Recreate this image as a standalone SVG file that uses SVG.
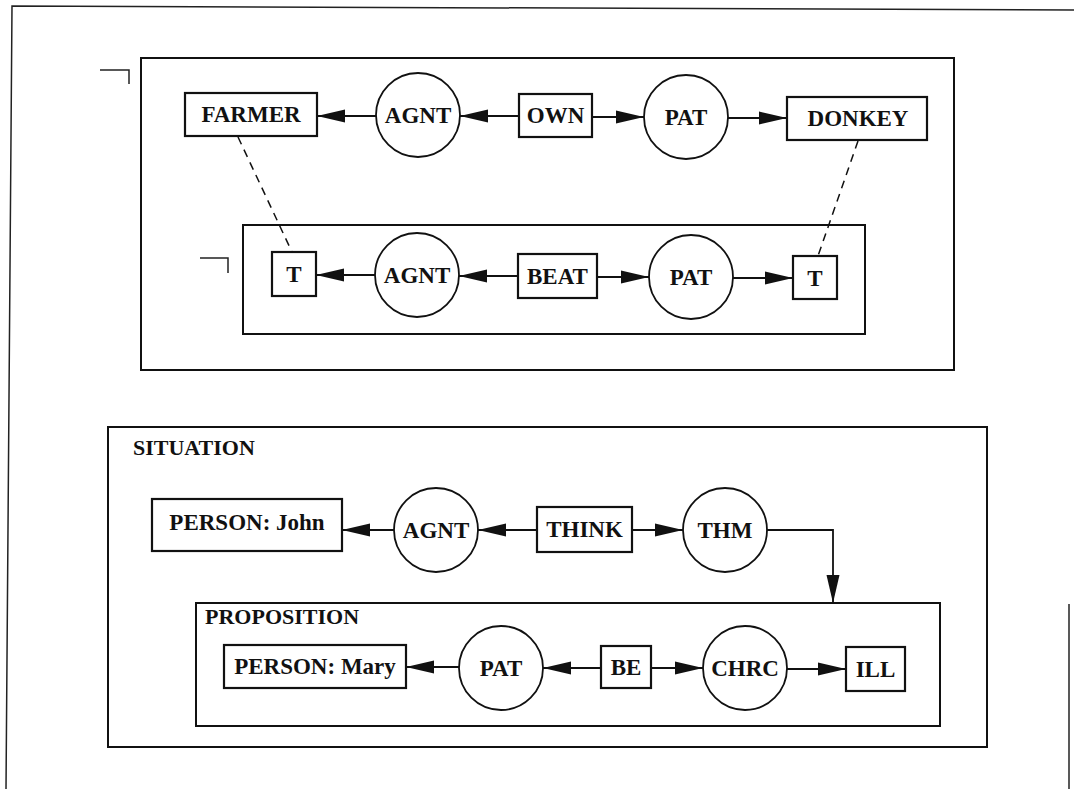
<svg xmlns="http://www.w3.org/2000/svg" width="1074" height="789" viewBox="0 0 1074 789">
<style>
.bx{fill:#fff;stroke:#111;stroke-width:2.2}
.ctx{fill:none;stroke:#111;stroke-width:2}
.rel{fill:#fff;stroke:#111;stroke-width:1.8}
.t{font-family:"Liberation Serif","Times New Roman",serif;font-weight:bold;font-size:23px;fill:#111;text-anchor:middle}
.lbl{font-family:"Liberation Serif","Times New Roman",serif;font-weight:bold;font-size:22px;fill:#111}
.ar{fill:none;stroke:#111;stroke-width:1.8;marker-end:url(#ah)}
.ds{fill:none;stroke:#111;stroke-width:1.5;stroke-dasharray:8 6}
.fr{fill:none;stroke:#222;stroke-width:1.5}
</style>
<defs>
<marker id="ah" markerUnits="userSpaceOnUse" markerWidth="28" markerHeight="14" refX="28" refY="7" orient="auto">
<path d="M0,0.5 L28,7 L0,13.5 z" fill="#111"/>
</marker>
</defs>
<rect width="1074" height="789" fill="#fff"/>
<g id="frame">
<path class="fr" d="M1074,10 L12,6 L6,789"/>
<path class="fr" d="M1069,604 L1069,789"/>
</g>
<g id="context-outer">
<rect class="ctx" x="141" y="58" width="813" height="312"/>
<path class="fr" d="M100,70 H129 V84"/>
</g>
<g id="context-inner">
<rect class="ctx" x="243" y="225" width="622" height="109"/>
<path class="fr" d="M200,258 H228 V273"/>
</g>
<g id="farmer"><rect class="bx" x="185" y="93" width="132" height="43"/><text class="t" x="251" y="122">FARMER</text></g>
<g id="agnt1"><circle class="rel" cx="418" cy="115" r="42"/><text class="t" x="418" y="123">AGNT</text></g>
<g id="own"><rect class="bx" x="519" y="94" width="73" height="43"/><text class="t" x="555.5" y="123">OWN</text></g>
<g id="pat1"><circle class="rel" cx="686" cy="117" r="42"/><text class="t" x="686" y="125">PAT</text></g>
<g id="donkey"><rect class="bx" x="787" y="97" width="140" height="43"/><text class="t" x="858" y="126">DONKEY</text></g>
<g id="t1"><rect class="bx" x="272" y="252" width="44" height="44"/><text class="t" x="294" y="282">T</text></g>
<g id="agnt2"><circle class="rel" cx="417" cy="275" r="42"/><text class="t" x="417" y="283">AGNT</text></g>
<g id="beat"><rect class="bx" x="518" y="254" width="79" height="44"/><text class="t" x="557.5" y="284">BEAT</text></g>
<g id="pat2"><circle class="rel" cx="691" cy="277" r="42"/><text class="t" x="691" y="285">PAT</text></g>
<g id="t2"><rect class="bx" x="793" y="256" width="44" height="43"/><text class="t" x="815" y="286">T</text></g>
<g id="situation"><rect class="ctx" x="108" y="427" width="879" height="320"/><text class="lbl" x="133" y="455">SITUATION</text></g>
<g id="john"><rect class="bx" x="152" y="499" width="190" height="52"/><text class="t" x="247" y="530">PERSON: John</text></g>
<g id="agnt3"><circle class="rel" cx="436" cy="530" r="42"/><text class="t" x="436" y="538">AGNT</text></g>
<g id="think"><rect class="bx" x="537" y="507" width="95" height="45"/><text class="t" x="584.5" y="537">THINK</text></g>
<g id="thm"><circle class="rel" cx="725" cy="530" r="42"/><text class="t" x="725" y="538">THM</text></g>
<g id="proposition"><rect class="ctx" x="196" y="603" width="744" height="123"/><text class="lbl" x="205" y="624">PROPOSITION</text></g>
<g id="mary"><rect class="bx" x="224" y="645" width="182" height="43"/><text class="t" x="315" y="674">PERSON: Mary</text></g>
<g id="pat3"><circle class="rel" cx="501" cy="668" r="42"/><text class="t" x="501" y="676">PAT</text></g>
<g id="be"><rect class="bx" x="601" y="646" width="50" height="42"/><text class="t" x="626" y="675">BE</text></g>
<g id="chrc"><circle class="rel" cx="745" cy="668" r="42"/><text class="t" x="745" y="676">CHRC</text></g>
<g id="ill"><rect class="bx" x="846" y="647" width="59" height="44"/><text class="t" x="875.5" y="677">ILL</text></g>
<g id="connectors">
<line class="ar" x1="376" y1="116" x2="317" y2="116"/>
<line class="ar" x1="519" y1="116" x2="460" y2="116"/>
<line class="ar" x1="592" y1="117" x2="644" y2="117"/>
<line class="ar" x1="728" y1="118" x2="787" y2="118"/>
<line class="ar" x1="375" y1="275" x2="316" y2="275"/>
<line class="ar" x1="518" y1="276" x2="459" y2="276"/>
<line class="ar" x1="597" y1="277" x2="649" y2="277"/>
<line class="ar" x1="733" y1="278" x2="793" y2="278"/>
<line class="ds" x1="238" y1="137" x2="292" y2="252"/>
<line class="ds" x1="858" y1="141" x2="818" y2="256"/>
<line class="ar" x1="394" y1="530" x2="342" y2="530"/>
<line class="ar" x1="537" y1="530" x2="478" y2="530"/>
<line class="ar" x1="632" y1="530" x2="683" y2="530"/>
<path class="ar" d="M767,530 H833 V603"/>
<line class="ar" x1="459" y1="667" x2="406" y2="667"/>
<line class="ar" x1="601" y1="668" x2="543" y2="668"/>
<line class="ar" x1="651" y1="668" x2="703" y2="668"/>
<line class="ar" x1="787" y1="669" x2="846" y2="669"/>
</g>
</svg>
